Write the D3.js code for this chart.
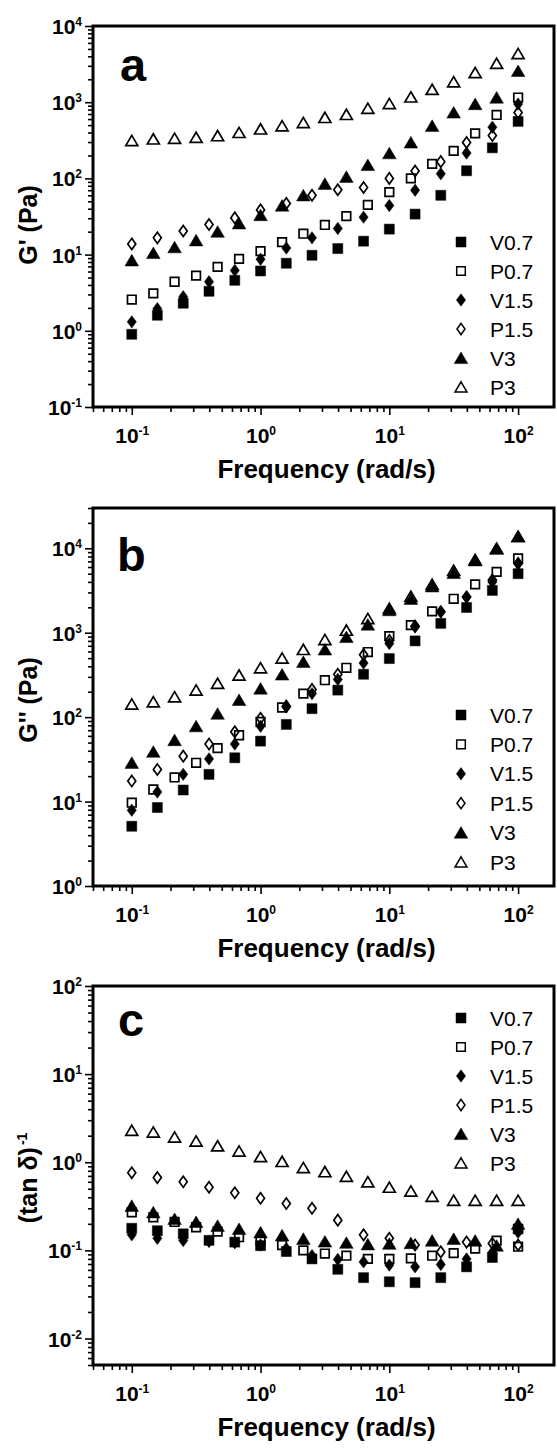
<!DOCTYPE html>
<html><head><meta charset="utf-8">
<script src="https://cdn.jsdelivr.net/npm/d3@7"></script>
<style>body{margin:0;background:#fff} svg{display:block}</style>
</head><body>
<svg id="chart" width="557" height="1452"></svg>
<script>
// ---- data ----
const freq5 = [0.1, 0.158, 0.251, 0.398, 0.631, 1, 1.585, 2.51, 3.98, 6.31, 10, 15.85, 25.1, 39.8, 63.1, 100];
const freq6 = [0.1, 0.147, 0.215, 0.316, 0.464, 0.681, 1, 1.47, 2.15, 3.16, 4.64, 6.81, 10, 14.7, 21.5, 31.6, 46.4, 68.1, 100];
const seriesNames = ["V0.7", "P0.7", "V1.5", "P1.5", "V3", "P3"];
const seriesFreq = [freq5, freq6, freq5, freq5, freq6, freq6];

// panel a: G' (Pa)
const aV07 = [0.90, 1.6, 2.3, 3.3, 4.6, 6.1, 7.7, 9.8, 12.0, 15.0, 21.6, 34, 60, 126, 252, 560];
const aP07 = [2.57, 3.1, 4.4, 5.3, 6.9, 8.8, 11.1, 14.6, 18.8, 24.5, 32, 45, 66, 100, 155, 230, 390, 680, 1150];
const aV15 = [1.31, 1.95, 2.8, 4.4, 6.2, 8.7, 12.2, 16.6, 22, 31, 44, 70, 115, 215, 470, 945];
const aP15 = [13.8, 16.6, 20.4, 24.8, 30.3, 38.6, 47, 60, 71, 76, 100, 125, 166, 296, 365, 730];
const aV3 = [8.4, 10.5, 12.5, 15.4, 20, 25.7, 33, 44, 60, 85, 105, 150, 214, 296, 490, 733, 945, 1150, 2570];
const aP3 = [313, 329, 335, 345, 363, 400, 445, 490, 540, 630, 690, 830, 960, 1170, 1470, 1850, 2440, 3230, 4340];

// panel b: G'' (Pa)
const bV07 = [5.1, 8.5, 13.7, 21, 33, 52, 82, 126, 209, 322, 494, 800, 1290, 1990, 3170, 5000];
const bP07 = [9.7, 13.9, 19.3, 28.8, 43, 61, 88, 130, 190, 274, 384, 590, 910, 1230, 1790, 2520, 3740, 5250, 7570];
const bV15 = [7.9, 13, 21, 32, 48, 78, 132, 190, 280, 437, 745, 1170, 1770, 2650, 4000, 6600];
const bP15 = [17.5, 24, 34.5, 48, 67, 97, 135, 213, 322, 550, 810, 1200, 1770, 2650, 4200, 6600];
const bV3 = [28.8, 39, 53.5, 78, 110, 160, 218, 320, 452, 633, 890, 1250, 1850, 2520, 3540, 5100, 7200, 9900, 13800];
const bP3 = [143, 152, 174, 209, 251, 314, 384, 500, 633, 828, 1070, 1470, 1940, 2700, 3730, 5470, 7350, 10000, 13800];

// panel c: (tan δ)^-1
const cV07 = [0.178, 0.167, 0.154, 0.13, 0.124, 0.113, 0.097, 0.080, 0.061, 0.049, 0.044, 0.043, 0.049, 0.065, 0.083, 0.175];
const cP07 = [0.27, 0.237, 0.21, 0.183, 0.163, 0.141, 0.129, 0.115, 0.10, 0.092, 0.087, 0.08, 0.08, 0.081, 0.087, 0.093, 0.105, 0.129, 0.11];
const cV15 = [0.15, 0.137, 0.129, 0.126, 0.122, 0.115, 0.105, 0.087, 0.079, 0.074, 0.068, 0.065, 0.069, 0.08, 0.095, 0.16];
const cP15 = [0.76, 0.67, 0.60, 0.52, 0.45, 0.39, 0.34, 0.30, 0.22, 0.15, 0.137, 0.115, 0.096, 0.124, 0.12, 0.115];
const cV3 = [0.32, 0.27, 0.227, 0.21, 0.19, 0.175, 0.16, 0.148, 0.135, 0.126, 0.122, 0.117, 0.119, 0.121, 0.129, 0.135, 0.129, 0.113, 0.2];
const cP3 = [2.30, 2.2, 1.93, 1.74, 1.53, 1.34, 1.16, 1.02, 0.87, 0.78, 0.69, 0.60, 0.52, 0.47, 0.41, 0.37, 0.37, 0.37, 0.37];

const xDomain = [0.05, 190];
const panelLetters = ["a", "b", "c"];
const yTitles = ["G' (Pa)", "G'' (Pa)", "(tan δ)"];
const yDomains = [[0.1, 10000], [1, 30000], [0.005, 100]];
const panelValues = [
  [aV07, aP07, aV15, aP15, aV3, aP3],
  [bV07, bP07, bV15, bP15, bV3, bP3],
  [cV07, cP07, cV15, cP15, cV3, cP3]
];
const xTitle = "Frequency (rad/s)";

// ---- layout ----
const FONT = "'Liberation Sans', Arial, Helvetica, sans-serif";
const L = 93, R = 554;
const panels = [
  {top: 26, bottom: 407, legendY: 242, legendStep: 29, letterX: 120, letterY: 81, ytitleY: 225},
  {top: 508, bottom: 886, legendY: 715, legendStep: 29.4, letterX: 117, letterY: 571, ytitleY: 700},
  {top: 986, bottom: 1365, legendY: 1018, legendStep: 29, letterX: 118, letterY: 1036, ytitleY: 1178}
];

// marker shapes (visual-center)
const shapes = {
  square: "M-5,-5H5V5H-5Z",
  squareOpen: "M-4.3,-4.3H4.3V4.3H-4.3Z",
  diamond: "M0,-6.2L4.6,0L0,6.2L-4.6,0Z",
  diamondOpen: "M0,-5.6L4,0L0,5.6L-4,0Z",
  triangle: "M0,-6L6.8,5.6L-6.8,5.6Z",
  triangleOpen: "M0,-5.2L6,5L-6,5Z"
};
const seriesStyle = [
  {d: shapes.square, filled: true},
  {d: shapes.squareOpen, filled: false},
  {d: shapes.diamond, filled: true},
  {d: shapes.diamondOpen, filled: false},
  {d: shapes.triangle, filled: true},
  {d: shapes.triangleOpen, filled: false}
];

const svg = d3.select("#chart");
const x = d3.scaleLog().domain(xDomain).range([L, R]);
const isPow = v => Math.abs(Math.log10(v) - Math.round(Math.log10(v))) < 1e-9;

function powText(t, v) {
  const e = Math.round(Math.log10(v));
  t.text(null);
  t.append("tspan").text("10");
  t.append("tspan").attr("font-size", 12).attr("dy", -8).text(e);
}

panels.forEach((p, pi) => {
  const y = d3.scaleLog().domain(yDomains[pi]).range([p.bottom, p.top]);
  const g = svg.append("g");

  // x axis
  const xa = g.append("g").attr("transform", `translate(0,${p.bottom})`)
    .call(d3.axisBottom(x).tickValues(x.ticks()).tickSize(4).tickFormat(""));
  xa.select(".domain").remove();
  xa.selectAll(".tick line").attr("stroke-width", 1.6).attr("y2", d => isPow(d) ? 8 : 5);
  xa.selectAll(".tick text").remove();
  xa.selectAll(".tick").filter(d => isPow(d)).each(function(d) {
    const t = d3.select(this).append("text").attr("fill", "#000")
      .attr("y", 36).attr("x", 0)
      .attr("text-anchor", "middle").attr("font-family", FONT)
      .attr("font-weight", "bold").attr("font-size", 21);
    powText(t, d);
  });

  // y axis
  const ya = g.append("g").attr("transform", `translate(${L},0)`)
    .call(d3.axisLeft(y).tickValues(y.ticks()).tickSize(4).tickFormat(""));
  ya.select(".domain").remove();
  ya.selectAll(".tick line").attr("stroke-width", 1.6).attr("x2", d => isPow(d) ? -8 : -5);
  ya.selectAll(".tick text").remove();
  ya.selectAll(".tick").filter(d => isPow(d)).each(function(d) {
    const t = d3.select(this).append("text").attr("fill", "#000")
      .attr("x", -11).attr("y", 0).attr("dy", "0.36em")
      .attr("text-anchor", "end").attr("font-family", FONT)
      .attr("font-weight", "bold").attr("font-size", 21);
    powText(t, d);
  });

  // frame
  g.append("rect").attr("x", L).attr("y", p.top).attr("width", R - L).attr("height", p.bottom - p.top)
    .attr("fill", "none").attr("stroke", "#000").attr("stroke-width", 3);

  // data
  panelValues[pi].forEach((vals, si) => {
    const st = seriesStyle[si];
    const fr = seriesFreq[si];
    g.append("g").selectAll("path").data(vals).join("path")
      .attr("d", st.d)
      .attr("transform", (v, i) => `translate(${x(fr[i])},${y(v)})`)
      .attr("fill", st.filled ? "#000" : "none")
      .attr("stroke", "#000")
      .attr("stroke-width", st.filled ? 0.5 : 1.7);
  });

  // legend
  seriesNames.forEach((name, si) => {
    const st = seriesStyle[si];
    const ly = p.legendY + si * p.legendStep;
    g.append("path").attr("d", st.d).attr("transform", `translate(461,${ly})`)
      .attr("fill", st.filled ? "#000" : "none").attr("stroke", "#000")
      .attr("stroke-width", st.filled ? 0.5 : 1.5);
    g.append("text").attr("x", 490).attr("y", ly).attr("dy", "0.36em")
      .attr("font-family", FONT).attr("font-size", 21).text(name);
  });

  // panel letter
  g.append("text").attr("x", p.letterX).attr("y", p.letterY)
    .attr("font-family", FONT).attr("font-weight", "bold").attr("font-size", 47).text(panelLetters[pi]);

  // x title
  g.append("text").attr("x", (L + R) / 2 + 3).attr("y", p.bottom + 71)
    .attr("text-anchor", "middle").attr("font-family", FONT).attr("font-weight", "bold")
    .attr("font-size", 26).text(xTitle);

  // y title
  const yt = g.append("text").attr("transform", `translate(37,${p.ytitleY}) rotate(-90)`)
    .attr("text-anchor", "middle").attr("font-family", FONT).attr("font-weight", "bold")
    .attr("font-size", 25);
  yt.append("tspan").text(yTitles[pi]);
  if (pi === 2) {
    yt.append("tspan").attr("font-size", 14).attr("dy", -10).attr("dx", 2).text("-1");
  }
});
</script>
</body></html>
